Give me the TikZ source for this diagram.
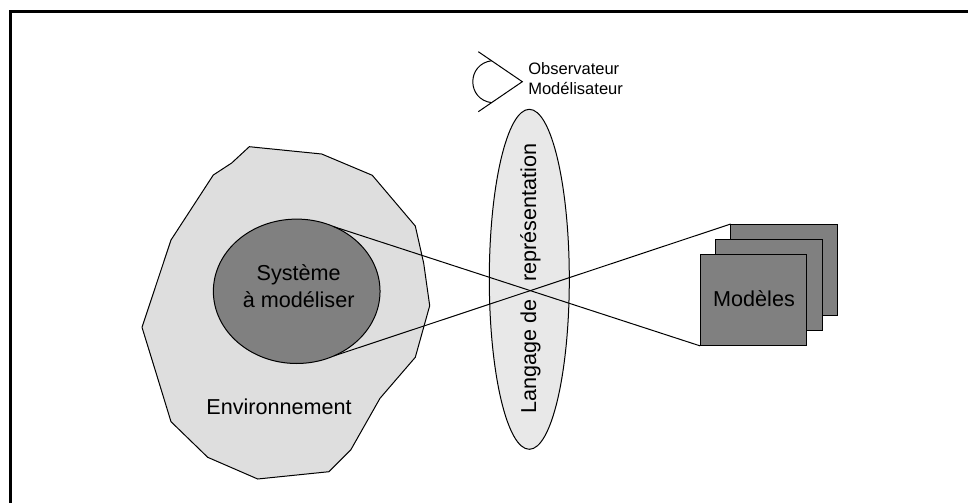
\documentclass[tikz,border=0pt]{standalone}
\usepackage{fontspec}
\setmainfont{Liberation Sans}
\usetikzlibrary{shapes.geometric}
\definecolor{envgray}{gray}{0.87}
\definecolor{lensgray}{gray}{0.91}
\definecolor{darkfill}{gray}{0.5}
\tikzset{
  thinline/.style={draw=black,line width=0.75pt},
  frameline/.style={draw=black,line width=2.25pt},
  bigtext/.style={font=\fontsize{16.2pt}{18.5pt}\selectfont,text=black,inner sep=0pt},
  smalltext/.style={font=\fontsize{12.4pt}{15pt}\selectfont,text=black,inner sep=0pt,align=left},
  sheet/.style={thinline,fill=darkfill,rectangle,minimum width=80pt,minimum height=68.8pt,inner sep=0pt,outer sep=0pt},
  oval/.style={thinline,ellipse,inner sep=0pt,outer sep=0pt}
}
\begin{document}
\begin{tikzpicture}[x=0.75pt,y=-0.75pt]
\useasboundingbox (0,0) rectangle (968,503);
\fill[white] (0,0) rectangle (968,503);
% frame (top and left only)
\coordinate (frameTR) at (968,11.5);
\coordinate (frameTL) at (10.5,11.5);
\coordinate (frameBL) at (10.5,503);
\draw[frameline,line cap=rect] (frameTR) -- (frameTL) -- (frameBL);
% environment
\draw[thinline,fill=envgray,line join=round]
  (249.3,146.7) -- (321.7,154) -- (372.3,175.3) -- (415.3,226) -- (423.7,263.3)
  -- (429.7,305.7) -- (415.3,357.3) -- (380,398.3) -- (350.7,450) -- (329,471.7)
  -- (257.7,479) -- (207.7,457.3) -- (171,421.7) -- (156.7,375) -- (142,327.3)
  -- (171,240) -- (213.3,175) -- (231.7,163) -- cycle;
\node[bigtext] (envtext) at (279,407) {Environnement};
% lens
\node[oval,fill=lensgray,minimum width=60pt,minimum height=255pt] (lens) at (529.3,279.3) {};
% system
\node[oval,fill=darkfill,minimum width=125pt,minimum height=108.3pt] (sys) at (296.7,291.3) {};
\node[bigtext,align=center] (systext) at (298.7,286) {Système\\[2pt]à modéliser};
% models
\node[sheet] (back) at (784,269.9) {};
\node[sheet] (mid) at (769,284.9) {};
\node[sheet] (front) at (753.4,300) {};
\node[bigtext] (modtext) at (754,299) {Modèles};
% projection lines
\draw[thinline] (sys.60.7) -- (front.south west);
\draw[thinline] (sys.-60.7) -- (back.north west);
% lens label
\node[bigtext,rotate=90] (lenstext) at (530.5,278.6) {Langage de\hspace*{9pt} représentation};
% eye
\coordinate (eyeTop) at (478.3,51.7);
\coordinate (eyeTip) at (522.3,81.7);
\coordinate (eyeBot) at (478.3,111.7);
\coordinate (irisTop) at (491.7,60.7);
\coordinate (irisBot) at (491.7,102.7);
\draw[thinline] (eyeTop) -- (eyeTip) -- (eyeBot);
\draw[thinline] (irisTop) .. controls (466.5,64) and (466.5,99.5) .. (irisBot);
\node[smalltext,anchor=west] (eyetext) at (528,79) {Observateur\\Modélisateur};
\end{tikzpicture}
\end{document}
